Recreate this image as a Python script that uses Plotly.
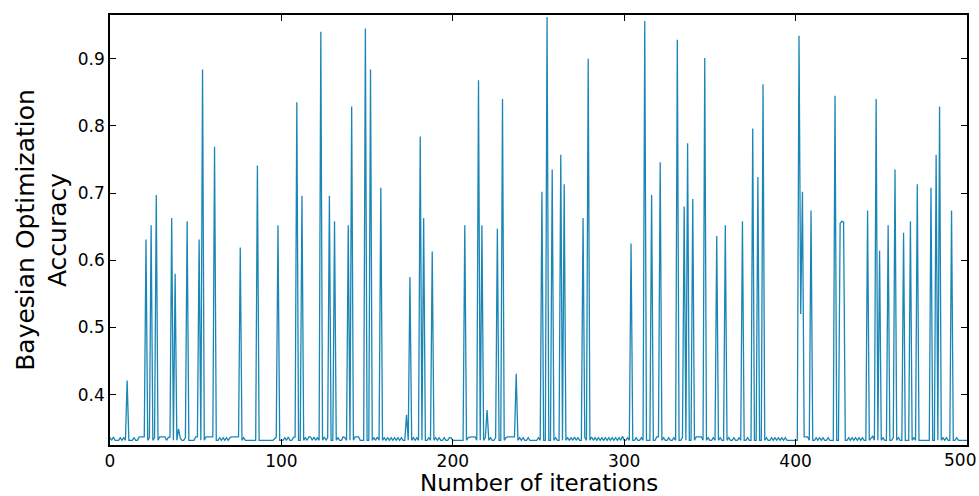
import plotly.graph_objects as go

iterations = list(range(501))

accuracy = [
    0.336, 0.332, 0.337, 0.332, 0.332, 0.332, 0.336, 0.332, 0.336, 0.332,
    0.421, 0.332, 0.332, 0.332, 0.336, 0.332, 0.332, 0.337, 0.337, 0.337,
    0.337, 0.631, 0.332, 0.336, 0.652, 0.332, 0.336, 0.697, 0.332, 0.337,
    0.337, 0.336, 0.337, 0.332, 0.336, 0.337, 0.663, 0.332, 0.580, 0.332,
    0.349, 0.335, 0.332, 0.332, 0.336, 0.658, 0.332, 0.332, 0.332, 0.332,
    0.337, 0.337, 0.631, 0.332, 0.884, 0.332, 0.337, 0.337, 0.337, 0.337,
    0.337, 0.769, 0.332, 0.332, 0.336, 0.332, 0.336, 0.332, 0.336, 0.332,
    0.336, 0.337, 0.337, 0.337, 0.337, 0.337, 0.619, 0.332, 0.336, 0.332,
    0.332, 0.332, 0.332, 0.332, 0.332, 0.332, 0.741, 0.332, 0.332, 0.332,
    0.332, 0.332, 0.332, 0.332, 0.332, 0.332, 0.334, 0.337, 0.652, 0.332,
    0.332, 0.332, 0.336, 0.332, 0.337, 0.332, 0.332, 0.336, 0.337, 0.835,
    0.332, 0.332, 0.696, 0.332, 0.336, 0.332, 0.337, 0.337, 0.332, 0.337,
    0.332, 0.336, 0.332, 0.940, 0.332, 0.337, 0.332, 0.336, 0.696, 0.332,
    0.332, 0.658, 0.332, 0.336, 0.332, 0.332, 0.337, 0.336, 0.332, 0.652,
    0.332, 0.829, 0.332, 0.337, 0.337, 0.337, 0.332, 0.332, 0.332, 0.945,
    0.332, 0.332, 0.884, 0.332, 0.336, 0.332, 0.337, 0.332, 0.708, 0.332,
    0.336, 0.332, 0.336, 0.332, 0.336, 0.332, 0.336, 0.332, 0.336, 0.332,
    0.336, 0.332, 0.332, 0.370, 0.332, 0.575, 0.332, 0.336, 0.332, 0.336,
    0.332, 0.784, 0.332, 0.663, 0.332, 0.332, 0.336, 0.332, 0.613, 0.332,
    0.336, 0.332, 0.336, 0.332, 0.332, 0.336, 0.332, 0.332, 0.336, 0.336,
    0.332, 0.332, 0.332, 0.332, 0.332, 0.332, 0.332, 0.652, 0.332, 0.336,
    0.337, 0.337, 0.337, 0.337, 0.332, 0.868, 0.332, 0.652, 0.332, 0.336,
    0.377, 0.332, 0.336, 0.332, 0.332, 0.336, 0.647, 0.332, 0.332, 0.840,
    0.332, 0.336, 0.337, 0.337, 0.337, 0.337, 0.337, 0.431, 0.332, 0.336,
    0.332, 0.336, 0.332, 0.332, 0.336, 0.332, 0.332, 0.332, 0.332, 0.332,
    0.336, 0.332, 0.702, 0.332, 0.332, 0.962, 0.332, 0.332, 0.735, 0.332,
    0.336, 0.332, 0.332, 0.757, 0.332, 0.713, 0.332, 0.336, 0.332, 0.336,
    0.332, 0.337, 0.332, 0.336, 0.332, 0.332, 0.663, 0.336, 0.332, 0.900,
    0.332, 0.337, 0.332, 0.336, 0.332, 0.336, 0.332, 0.336, 0.332, 0.336,
    0.332, 0.336, 0.332, 0.336, 0.332, 0.336, 0.332, 0.336, 0.332, 0.338,
    0.332, 0.332, 0.336, 0.332, 0.625, 0.332, 0.332, 0.336, 0.332, 0.332,
    0.336, 0.332, 0.956, 0.332, 0.332, 0.332, 0.697, 0.332, 0.332, 0.337,
    0.337, 0.746, 0.332, 0.336, 0.332, 0.332, 0.336, 0.332, 0.332, 0.336,
    0.332, 0.928, 0.332, 0.332, 0.336, 0.680, 0.332, 0.774, 0.332, 0.332,
    0.691, 0.332, 0.337, 0.337, 0.337, 0.337, 0.332, 0.901, 0.332, 0.336,
    0.332, 0.332, 0.336, 0.332, 0.636, 0.332, 0.336, 0.332, 0.332, 0.652,
    0.332, 0.336, 0.332, 0.332, 0.336, 0.332, 0.332, 0.336, 0.332, 0.658,
    0.332, 0.332, 0.336, 0.332, 0.332, 0.796, 0.332, 0.332, 0.724, 0.332,
    0.332, 0.862, 0.332, 0.336, 0.332, 0.332, 0.336, 0.332, 0.336, 0.332,
    0.336, 0.332, 0.336, 0.332, 0.336, 0.332, 0.332, 0.332, 0.332, 0.332,
    0.332, 0.332, 0.934, 0.520, 0.702, 0.337, 0.337, 0.337, 0.332, 0.674,
    0.332, 0.332, 0.336, 0.332, 0.336, 0.332, 0.336, 0.332, 0.332, 0.336,
    0.332, 0.332, 0.332, 0.845, 0.332, 0.332, 0.655, 0.658, 0.657, 0.332,
    0.332, 0.336, 0.332, 0.336, 0.332, 0.336, 0.332, 0.336, 0.332, 0.336,
    0.332, 0.332, 0.674, 0.332, 0.336, 0.338, 0.332, 0.840, 0.332, 0.614,
    0.332, 0.336, 0.332, 0.332, 0.652, 0.332, 0.332, 0.336, 0.735, 0.332,
    0.336, 0.332, 0.332, 0.641, 0.332, 0.332, 0.332, 0.658, 0.332, 0.336,
    0.332, 0.713, 0.332, 0.332, 0.332, 0.332, 0.332, 0.332, 0.332, 0.708,
    0.332, 0.332, 0.757, 0.332, 0.829, 0.332, 0.336, 0.332, 0.336, 0.332,
    0.332, 0.674, 0.332, 0.332, 0.336, 0.332, 0.332, 0.332, 0.332, 0.332,
    0.332,
]

x_ticks = [0, 100, 200, 300, 400, 500]
x_tick_labels = ["0", "100", "200", "300", "400", "500"]
y_ticks = [0.4, 0.5, 0.6, 0.7, 0.8, 0.9]
y_tick_labels = ["0.4", "0.5", "0.6", "0.7", "0.8", "0.9"]

FONT = "DejaVu Sans, sans-serif"
TICK_SIZE = 17

fig = go.Figure()
fig.add_trace(go.Scatter(
    x=iterations, y=accuracy, mode="lines",
    line=dict(color="#1a86b6", width=1.3),
    showlegend=False,
))

axis_common = dict(
    showline=True, linecolor="black", linewidth=1.5, mirror="ticks",
    ticks="inside", ticklen=6, tickwidth=1.2, tickcolor="black",
    showgrid=False, zeroline=False, automargin=False,
    tickfont=dict(family=FONT, size=TICK_SIZE, color="black"),
)

fig.update_layout(
    width=979, height=496,
    margin=dict(l=110, r=12, t=15, b=51),
    paper_bgcolor="white", plot_bgcolor="white",
    xaxis=dict(
        range=[0, 500.01], tickvals=x_ticks,
        # last label drawn as annotation so it stays inside the page
        ticktext=x_tick_labels[:-1] + [""],
        **axis_common,
    ),
    yaxis=dict(
        range=[0.325, 0.965], tickvals=y_ticks, ticktext=y_tick_labels,
        title=dict(text="Bayesian Optimization<br>Accuracy", standoff=4,
                   font=dict(family=FONT, size=25, color="black")),
        **axis_common,
    ),
)

fig.add_annotation(
    x=x_ticks[-1], xref="x", y=0, yref="paper",
    text=x_tick_labels[-1], showarrow=False,
    xanchor="center", yanchor="top", xshift=-7, yshift=-3,
    font=dict(family=FONT, size=TICK_SIZE, color="black"),
)

fig.add_annotation(
    x=0.5, xref="paper", y=-51 / 430, yref="paper",
    text="Number of iterations", showarrow=False,
    xanchor="center", yanchor="bottom", borderpad=0, yshift=-1,
    font=dict(family=FONT, size=23, color="black"),
)

fig.write_html("out.html")
